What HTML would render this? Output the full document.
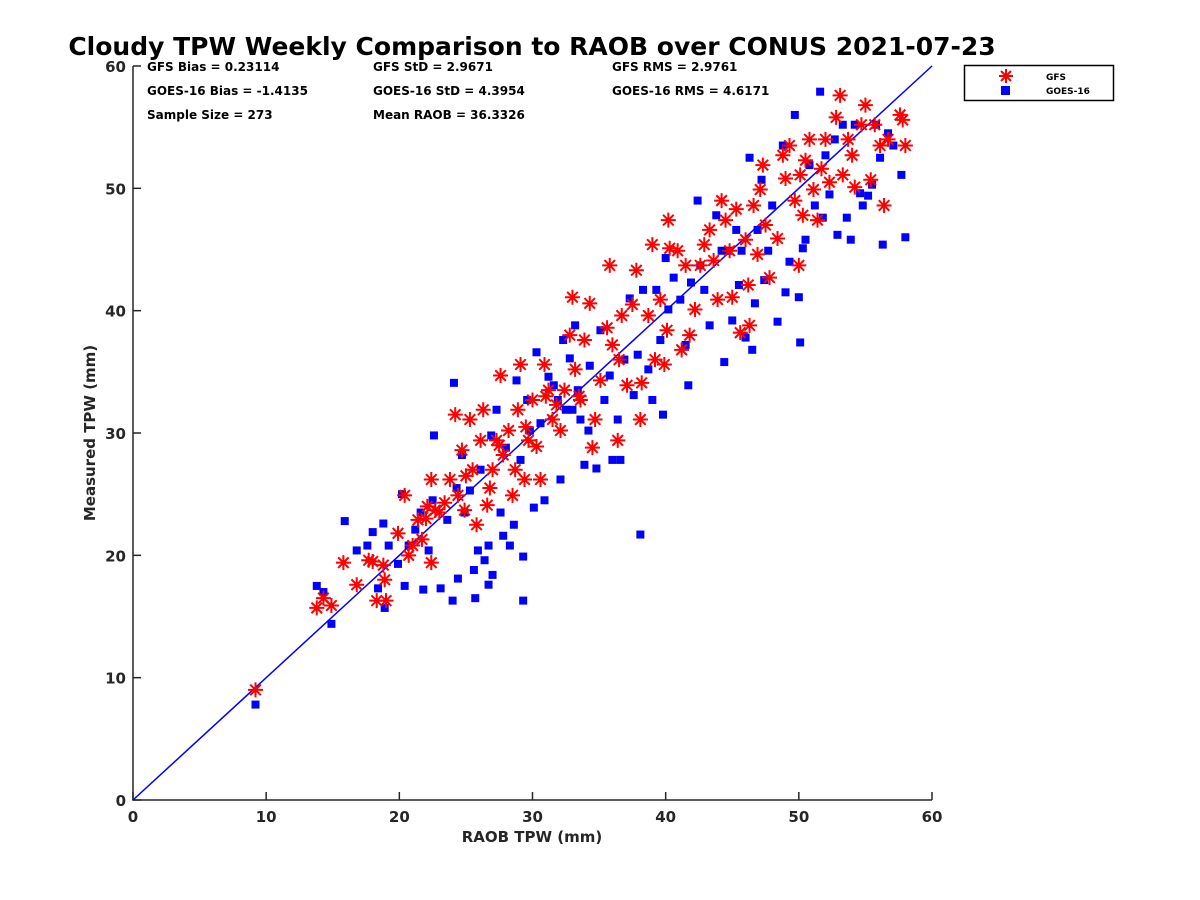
<!DOCTYPE html>
<html><head><meta charset="utf-8"><style>
body{margin:0;background:#fff;}
svg{display:block;font-family:"Liberation Sans","DejaVu Sans",sans-serif;}
</style></head><body>
<svg id="chart" width="1200" height="900">
<rect width="1200" height="900" fill="#fff"/>
<text x="532" y="55" text-anchor="middle" font-size="25" font-weight="bold" fill="#000" font-family="DejaVu Sans, sans-serif">Cloudy TPW Weekly Comparison to RAOB over CONUS 2021-07-23</text>
<g id="plot"></g>
<g font-size="12" font-weight="bold" fill="#000" font-family="DejaVu Sans, sans-serif">
<text x="147" y="71">GFS Bias = 0.23114</text>
<text x="147" y="95">GOES-16 Bias = -1.4135</text>
<text x="147" y="119">Sample Size = 273</text>
<text x="373" y="71">GFS StD = 2.9671</text>
<text x="373" y="95">GOES-16 StD = 4.3954</text>
<text x="373" y="119">Mean RAOB = 36.3326</text>
<text x="612" y="71">GFS RMS = 2.9761</text>
<text x="612" y="95">GOES-16 RMS = 4.6171</text>
</g>
<g>
<rect x="964.5" y="65.5" width="149" height="35" fill="#fff" stroke="#000" stroke-width="1.5"/>
<g stroke="#ff0000" stroke-width="2">
<line x1="1006" y1="69" x2="1006" y2="83"/><line x1="999" y1="76" x2="1013" y2="76"/><line x1="1001" y1="71" x2="1011" y2="81"/><line x1="1001" y1="81" x2="1011" y2="71"/></g>
<rect x="1001" y="86" width="9" height="9" fill="#0000ff"/>
<text x="1046" y="80" font-size="9" font-weight="bold" font-family="DejaVu Sans, sans-serif">GFS</text>
<text x="1046" y="94" font-size="9" font-weight="bold" font-family="DejaVu Sans, sans-serif">GOES-16</text>
</g>
<text x="532" y="842" text-anchor="middle" font-size="15" font-weight="bold" fill="#262626" font-family="DejaVu Sans, sans-serif">RAOB TPW (mm)</text>
<text transform="translate(95,433) rotate(-90)" text-anchor="middle" font-size="15" font-weight="bold" fill="#262626" font-family="DejaVu Sans, sans-serif">Measured TPW (mm)</text>
</svg>
<script>
const xTicks=[0,10,20,30,40,50,60];
const yTicks=[0,10,20,30,40,50,60];
const gfsX=[9.2,13.8,14.3,14.9,15.8,16.8,17.7,18.0,18.3,19.0,18.9,18.8,19.9,20.4,20.7,21.0,21.4,21.7,22.1,22.4,22.4,22.7,23.4,23.8,24.2,24.4,24.7,24.9,25.3,25.5,25.8,26.1,26.3,26.6,26.8,27.0,27.3,27.6,27.8,28.2,28.5,28.7,28.9,29.1,29.4,29.7,30.0,30.3,30.6,30.9,31.2,31.5,31.8,32.1,32.4,32.8,33.0,33.2,33.6,33.9,34.3,34.5,34.7,35.1,35.6,35.8,36.0,36.4,36.7,37.1,37.5,37.8,38.1,38.2,38.7,39.0,39.2,39.6,39.9,40.1,40.3,40.2,40.9,41.2,41.5,41.8,42.2,42.6,42.9,43.3,43.6,43.9,44.2,44.5,44.8,45.0,45.3,45.6,46.0,46.2,46.3,46.6,46.9,47.1,47.3,47.5,47.8,48.4,48.8,49.0,49.3,49.7,50.0,50.1,50.3,50.5,50.8,51.1,51.4,51.7,52.0,52.3,52.8,53.1,53.3,53.7,54.0,54.2,54.7,55.0,55.4,55.7,56.1,56.4,56.7,57.6,57.8,58.0,22.0,23.0,25.0,27.5,29.5,31.0,33.5,36.5];
const gfsY=[9.0,15.7,16.5,15.9,19.4,17.6,19.6,19.5,16.3,16.3,18.0,19.2,21.8,24.9,20.0,20.8,22.9,21.3,24.0,19.4,26.2,23.7,24.3,26.2,31.5,24.9,28.6,23.7,31.1,27.0,22.5,29.4,31.9,24.1,25.5,27.0,29.4,34.7,28.2,30.2,24.9,27.0,31.9,35.6,26.2,29.4,32.7,28.9,26.2,35.6,33.5,31.1,32.3,30.2,33.5,38.0,41.1,35.2,32.7,37.6,40.6,28.8,31.1,34.3,38.6,43.7,37.2,29.4,39.6,33.9,40.5,43.3,31.1,34.1,39.6,45.4,36.0,40.9,35.6,38.4,45.1,47.4,44.9,36.8,43.7,38.0,40.1,43.7,45.4,46.6,44.1,40.9,49.0,47.4,44.9,41.1,48.3,38.2,45.8,42.1,38.8,48.6,44.6,49.9,51.9,47.0,42.7,45.9,52.7,50.8,53.5,49.0,43.7,51.1,47.8,52.3,54.0,49.9,47.4,51.6,54.0,50.5,55.8,57.6,51.1,54.0,52.7,50.1,55.2,56.8,50.7,55.2,53.5,48.6,54.0,56.0,55.6,53.5,23.0,23.5,26.5,29.0,30.5,33.0,33.0,36.0];
const goesX=[9.2,13.8,14.3,14.9,15.9,16.8,17.6,18.0,18.4,18.8,18.9,19.2,19.9,20.2,20.4,20.7,21.2,21.6,21.8,22.2,22.5,22.6,23.1,23.6,24.0,24.1,24.3,24.4,24.7,24.9,25.3,25.6,25.7,25.9,26.1,26.4,26.7,26.7,26.9,27.0,27.3,27.6,27.8,28.0,28.3,28.6,28.8,29.1,29.3,29.3,29.6,29.8,30.1,30.3,30.6,30.9,31.2,31.6,31.9,32.1,32.3,32.5,32.8,33.0,33.2,33.4,33.6,33.9,34.2,34.3,34.8,35.1,35.4,35.8,36.0,36.4,36.6,36.9,37.3,37.6,37.9,38.1,38.3,38.7,39.0,39.3,39.6,39.8,40.0,40.2,40.6,41.1,41.5,41.7,41.9,42.4,42.6,42.9,43.3,43.8,44.2,44.4,44.7,45.0,45.3,45.5,45.7,46.0,46.3,46.5,46.7,46.9,47.2,47.4,47.7,48.0,48.4,48.8,49.0,49.3,49.7,50.0,50.1,50.3,50.5,50.8,51.2,51.6,51.8,52.0,52.3,52.7,52.9,53.3,53.6,53.9,54.2,54.6,54.8,55.2,55.5,55.8,56.1,56.3,56.7,57.1,57.7,58.0];
const goesY=[7.8,17.5,17.0,14.4,22.8,20.4,20.8,21.9,17.3,22.6,15.7,20.8,19.3,25.0,17.5,20.8,22.1,23.5,17.2,20.4,24.5,29.8,17.3,22.9,16.3,34.1,25.5,18.1,28.2,23.5,25.3,18.8,16.5,20.4,27.0,19.6,20.8,17.6,29.8,18.4,31.9,23.5,21.6,28.8,20.8,22.5,34.3,27.8,19.9,16.3,32.7,30.2,23.9,36.6,30.8,24.5,34.6,33.9,32.7,26.2,37.6,31.9,36.1,31.9,38.8,33.5,31.1,27.4,30.2,35.5,27.1,38.4,32.7,34.7,27.8,31.1,27.8,36.0,41.0,33.1,36.4,21.7,41.7,35.2,32.7,41.7,37.6,31.5,44.3,40.1,42.7,40.9,37.2,33.9,42.3,49.0,43.7,41.7,38.8,47.8,44.9,35.8,44.9,39.2,46.6,42.1,44.9,37.8,52.5,36.8,40.6,46.6,50.7,42.5,44.9,48.6,39.1,53.5,41.5,44.0,56.0,41.1,37.4,45.1,45.8,51.9,48.6,57.9,47.6,52.7,49.5,54.0,46.2,55.2,47.6,45.8,55.2,49.6,48.6,49.4,50.3,55.2,52.5,45.4,54.5,53.5,51.1,46.0];
const NS='http://www.w3.org/2000/svg';
const X0=133,X1=932,Y0=800,Y1=66;
function sx(v){return X0+(v-0)/(60-0)*(X1-X0);}
function sy(v){return Y0-(v-0)/(60-0)*(Y0-Y1);}
const plot=document.getElementById('plot');
function mk(tag,attrs,parent){const e=document.createElementNS(NS,tag);for(const k in attrs)e.setAttribute(k,attrs[k]);(parent||plot).appendChild(e);return e;}
const ax=mk('path',{d:`M${X0} ${Y1} V${Y0} H${X1}`,fill:'none',stroke:'#262626','stroke-width':1.5});


xTicks.forEach(t=>{
 const l=mk('line',{x1:sx(t),x2:sx(t),y1:Y0,y2:Y0-8,stroke:'#262626','stroke-width':1.5});
 
 
 const tx=mk('text',{x:sx(t),y:Y0+22,'text-anchor':'middle','font-size':15,'font-weight':'bold',fill:'#262626','font-family':'DejaVu Sans, sans-serif'});
 tx.textContent=t;
 
 
});
yTicks.forEach(t=>{
 const l=mk('line',{x1:X0,x2:X0+8,y1:sy(t),y2:sy(t),stroke:'#262626','stroke-width':1.5});
 
 
 const tx=mk('text',{x:X0-7,y:sy(t)+6,'text-anchor':'end','font-size':15,'font-weight':'bold',fill:'#262626','font-family':'DejaVu Sans, sans-serif'});
 tx.textContent=t;
 
 
});
const ol=mk('line',{x1:sx(0),y1:sy(0),x2:sx(60),y2:sy(60),stroke:'#0000ff','stroke-width':1.5});


goesX.forEach((x,i)=>{
 const r=mk('rect',{x:sx(x)-4,y:sy(goesY[i])-4,width:8,height:8,fill:'#0000ff'});
 
 
});
gfsX.forEach((x,i)=>{
 const cx=sx(x),cy=sy(gfsY[i]),r=7.5,d=5.3;
 const p=mk('path',{d:`M${cx} ${cy-r}V${cy+r}M${cx-r} ${cy}H${cx+r}M${cx-d} ${cy-d}L${cx+d} ${cy+d}M${cx-d} ${cy+d}L${cx+d} ${cy-d}`,stroke:'#ff0000','stroke-width':2,fill:'none'});
 
 
});
</script>
</body></html>
